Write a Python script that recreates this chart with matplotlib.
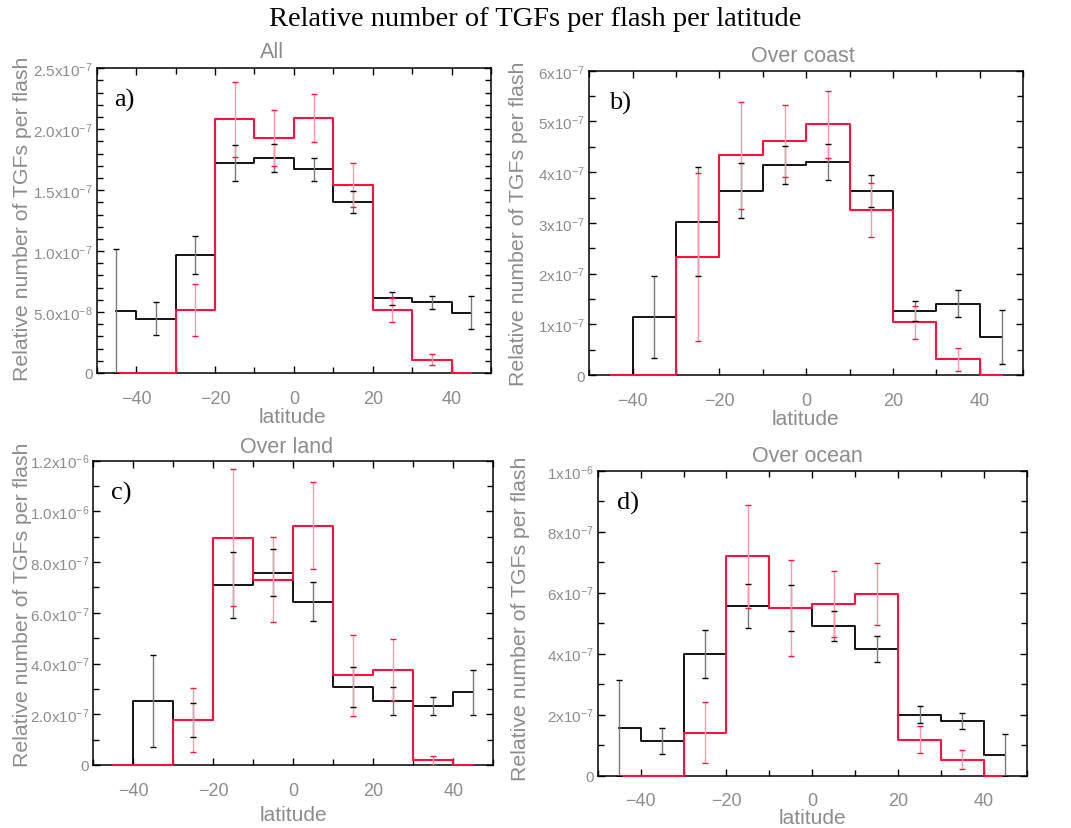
import numpy as np
import matplotlib.pyplot as plt
from matplotlib.ticker import MultipleLocator

plt.rcParams['font.family'] = ['Liberation Sans', 'DejaVu Sans']
plt.rcParams['mathtext.fontset'] = 'custom'
plt.rcParams['mathtext.rm'] = 'Liberation Sans'
plt.rcParams['mathtext.it'] = 'Liberation Sans:italic'

# latitude bin centres (10 deg bins)
lat = [-45, -35, -25, -15, -5, 5, 15, 25, 35, 45]

# a) All
all_black = [5.05e-8, 4.45e-8, 9.67e-8, 1.72e-7, 1.765e-7, 1.672e-7, 1.404e-7, 6.12e-8, 5.79e-8, 4.95e-8]
all_black_err = [5.1e-8, 1.34e-8, 1.53e-8, 1.47e-8, 1.15e-8, 9.5e-9, 9.0e-9, 5.6e-9, 5.3e-9, 1.37e-8]
all_red = [0, 0, 5.16e-8, 2.082e-7, 1.929e-7, 2.095e-7, 1.541e-7, 5.14e-8, 1.09e-8, 0]
all_red_err = [0, 0, 2.1e-8, 3.06e-8, 2.27e-8, 1.97e-8, 1.78e-8, 9.8e-9, 4.5e-9, 0]

# b) Over coast
coast_black = [0, 1.138e-7, 3.026e-7, 3.638e-7, 4.145e-7, 4.197e-7, 3.625e-7, 1.257e-7, 1.408e-7, 7.43e-8]
coast_black_err = [0, 8.1e-8, 1.07e-7, 5.5e-8, 3.8e-8, 3.5e-8, 3.2e-8, 2.0e-8, 2.7e-8, 5.3e-8]
coast_red = [0, 0, 2.329e-7, 4.329e-7, 4.618e-7, 4.947e-7, 3.25e-7, 1.039e-7, 3.09e-8, 0]
coast_red_err = [0, 0, 1.65e-7, 1.06e-7, 7.1e-8, 6.6e-8, 5.3e-8, 3.2e-8, 2.2e-8, 0]

# c) Over land
land_black = [0, 2.523e-7, 1.765e-7, 7.1e-7, 7.58e-7, 6.44e-7, 3.07e-7, 2.52e-7, 2.34e-7, 2.86e-7]
land_black_err = [0, 1.8e-7, 6.7e-8, 1.3e-7, 9.2e-8, 7.6e-8, 8.0e-8, 5.5e-8, 3.5e-8, 9.0e-8]
land_red = [0, 0, 1.775e-7, 8.97e-7, 7.31e-7, 9.44e-7, 3.53e-7, 3.75e-7, 1.83e-8, 0]
land_red_err = [0, 0, 1.25e-7, 2.7e-7, 1.67e-7, 1.7e-7, 1.58e-7, 1.23e-7, 1.8e-8, 0]

# d) Over ocean
ocean_black = [1.563e-7, 1.126e-7, 3.99e-7, 5.55e-7, 5.50e-7, 4.92e-7, 4.15e-7, 2.0e-7, 1.78e-7, 6.8e-8]
ocean_black_err = [1.56e-7, 4.3e-8, 8.0e-8, 7.2e-8, 7.6e-8, 4.9e-8, 4.2e-8, 2.8e-8, 2.6e-8, 6.8e-8]
ocean_red = [0, 0, 1.40e-7, 7.20e-7, 5.49e-7, 5.63e-7, 5.96e-7, 1.18e-7, 5.25e-8, 0]
ocean_red_err = [0, 0, 1.0e-7, 1.69e-7, 1.58e-7, 1.08e-7, 1.03e-7, 4.5e-8, 3.05e-8, 0]

# y tick labels per panel
yticks_a = ['0', '5.0x10$^{-8}$', '1.0x10$^{-7}$', '1.5x10$^{-7}$', '2.0x10$^{-7}$', '2.5x10$^{-7}$']
yticks_b = ['0', '1x10$^{-7}$', '2x10$^{-7}$', '3x10$^{-7}$', '4x10$^{-7}$', '5x10$^{-7}$', '6x10$^{-7}$']
yticks_c = ['0', '2.0x10$^{-7}$', '4.0x10$^{-7}$', '6.0x10$^{-7}$', '8.0x10$^{-7}$', '1.0x10$^{-6}$', '1.2x10$^{-6}$']
yticks_d = ['0', '2x10$^{-7}$', '4x10$^{-7}$', '6x10$^{-7}$', '8x10$^{-7}$', '1x10$^{-6}$']

GRAY = '#8c8c8c'
RED = '#ff1040'
PINK = '#ff9ab0'


def draw_panel(rect, black, black_err, red, red_err, ymax, ymajor, yminor,
               ylabels, title, letter, title_xy, ylab_xy, xlab_xy):
    ax = fig.add_axes(rect)
    x = np.array(lat)

    ax.step(x, black, where='mid', color='black', lw=1.3, clip_on=False, zorder=3)
    ax.step(x, red, where='mid', color=RED, lw=1.5, clip_on=False, zorder=4)

    # error bars: light bar, darker caps; skip empty bins
    for vals, errs, bar_c, cap_c in [(black, black_err, '#7a7a7a', 'black'),
                                     (red, red_err, PINK, RED)]:
        vals = np.array(vals)
        errs = np.array(errs)
        m = errs > 0
        lo = np.clip(vals[m] - errs[m], 0, None)
        hi = vals[m] + errs[m]
        ax.vlines(x[m], lo, hi, color=bar_c, lw=1.0, zorder=5)
        ax.plot(x[m], lo, ls='none', marker='_', ms=5, mew=1.0, color=cap_c, zorder=6)
        ax.plot(x[m], hi, ls='none', marker='_', ms=5, mew=1.0, color=cap_c, zorder=6)

    ax.set_xlim(-50, 50)
    ax.set_ylim(0, ymax)
    ax.set_xticks([-40, -20, 0, 20, 40])
    ax.set_xticklabels(['\u221240', '\u221220', '0', '20', '40'])
    ax.xaxis.set_minor_locator(MultipleLocator(10))
    ax.set_yticks(np.arange(len(ylabels)) * ymajor)
    ax.set_yticklabels(ylabels)
    ax.yaxis.set_minor_locator(MultipleLocator(yminor))
    ax.tick_params(which='both', direction='in', top=True, right=True,
                   colors='black', labelcolor=GRAY, width=1.0)
    ax.tick_params(which='major', length=5)
    ax.tick_params(which='minor', length=4)
    ax.tick_params(axis='x', labelsize=13, pad=12)
    ax.tick_params(axis='y', labelsize=11, pad=3)
    for s in ax.spines.values():
        s.set_linewidth(1.1)

    ax.text(0.045, 0.935, letter, transform=ax.transAxes, va='top', ha='left',
            family='Liberation Serif', fontsize=19)
    fig.text(title_xy[0] / W, 1 - title_xy[1] / H, title, ha='center', va='center',
             color=GRAY, fontsize=15.5)
    fig.text(ylab_xy[0] / W, 1 - ylab_xy[1] / H, 'Relative number of TGFs per flash',
             rotation=90, ha='center', va='center', color=GRAY, fontsize=15.3)
    fig.text(xlab_xy[0] / W, 1 - xlab_xy[1] / H, 'latitude', ha='center', va='center',
             color=GRAY, fontsize=15)
    return ax


W, H = 1071, 829
fig = plt.figure(figsize=(W / 100, H / 100), dpi=100)

fig.text(535 / W, 1 - 20 / H, 'Relative number of TGFs per flash per latitude',
         ha='center', va='center', family='Liberation Serif', fontsize=20.5)

draw_panel([0.0903, 0.5489, 0.3682, 0.3675], all_black, all_black_err, all_red, all_red_err,
           2.5e-7, 5e-8, 1e-8, yticks_a, 'All', 'a)', (272, 53), (23, 219), (292, 418))
draw_panel([0.5502, 0.5464, 0.4052, 0.3671], coast_black, coast_black_err, coast_red, coast_red_err,
           6e-7, 1e-7, 5e-8, yticks_b, 'Over coast', 'b)', (803, 57), (519, 224), (805, 420))
draw_panel([0.0871, 0.0760, 0.3735, 0.3671], land_black, land_black_err, land_red, land_red_err,
           1.2e-6, 2e-7, 1e-7, yticks_c, 'Over land', 'c)', (287, 448), (23, 605), (293, 816))
draw_panel([0.5581, 0.0631, 0.4006, 0.3679], ocean_black, ocean_black_err, ocean_red, ocean_red_err,
           1e-6, 2e-7, 1e-7, yticks_d, 'Over ocean', 'd)', (807, 457), (521, 619), (812, 819))

fig.savefig('out.png', dpi=100)
